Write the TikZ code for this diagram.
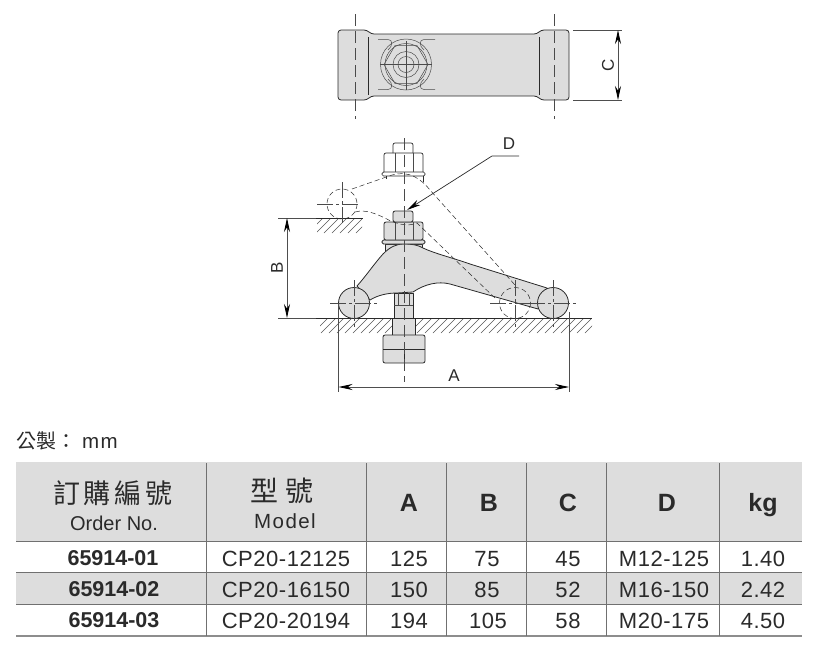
\documentclass[tikz,border=0pt]{standalone}
\usepackage{fontspec}
\setmainfont{Liberation Sans}
\newfontfamily\cjk{Noto Sans CJK TC}
\newfontfamily\tbl[LetterSpace=2.5]{Liberation Sans}
\newfontfamily\tbm[LetterSpace=7]{Liberation Sans}
\newfontfamily\tbb{Liberation Sans Bold}
\usetikzlibrary{arrows.meta}
\definecolor{partgray}{HTML}{DDDDDD}
\definecolor{ink}{HTML}{2A2A2A}
\definecolor{rule}{HTML}{707070}
\tikzset{
 part/.style={draw=ink,line width=0.8pt,fill=partgray,line join=round},
 edge/.style={draw=ink,line width=0.7pt},
 fineedge/.style={draw=ink!85!white,line width=0.5pt},
 phantomline/.style={draw=ink,line width=0.5pt,dash pattern=on 5pt off 3pt},
 center/.style={draw=ink!85!white,line width=0.55pt,dash pattern=on 16pt off 3pt on 3pt off 3pt},
 axisline/.style={draw=ink!85!white,line width=0.7pt,dash pattern=on 12pt off 5pt},
 dimline/.style={draw=rule!70!black,line width=0.8pt},
 dimarrow/.style={dimline,{Stealth[length=14pt,width=6pt,color=black]}-{Stealth[length=14pt,width=6pt,color=black]}},
 hatch/.style={draw=ink!80!white,line width=0.45pt},
 dimtext/.style={font=\fontsize{17}{17}\selectfont,text=ink,inner sep=0pt},
 cell/.style={font=\tbl\fontsize{22}{22}\selectfont,text=ink,anchor=base,inner sep=0pt},
 subcell/.style={font=\tbm\fontsize{20.5}{21}\selectfont,text=ink,anchor=base,inner sep=0pt},
 ordercell/.style={font=\fontsize{20}{20}\selectfont,text=ink,anchor=base,inner sep=0pt},
 boldcell/.style={font=\tbb\fontsize{21.5}{22}\selectfont,text=ink,anchor=base,inner sep=0pt},
 headcell/.style={font=\tbb\fontsize{25}{25}\selectfont,text=ink,anchor=base,inner sep=0pt},
 tablerule/.style={draw=rule,line width=1pt},
}
\begin{document}
\begin{tikzpicture}[x=1pt,y=-1pt]
\useasboundingbox (0,0) rectangle (817,654);
% ---------- top view
\path[part,rounded corners=3pt] (338,30) -- (367,30) -- (371,34) -- (537,34) -- (541,30) -- (569,30)
  -- (569,100) -- (541,100) -- (537,96) -- (371,96) -- (367,100) -- (338,100) -- cycle;
\draw[edge] (368,37) -- (368,95) (539,37) -- (539,95);
\draw[axisline] (355,14) -- (355,119);
\draw[axisline] (554,14) -- (554,119);
\coordinate (boltc) at (406,64.5);
\draw[fineedge] (boltc) circle (25.5) (boltc) circle (21) (boltc) circle (13) (boltc) circle (8);
\draw[fineedge] (384,64.5) -- (395,45.5) -- (417,45.5) -- (428,64.5) -- (417,83.5) -- (395,83.5) -- cycle;
\draw[fineedge] (380,64.5) -- (432,64.5) (406,41) -- (406,90);
\draw[fineedge] (378,39.5) -- (388,39.5) .. controls (393,39.5) and (393,46) .. (388,50)
            (435,39.5) -- (424,39.5) .. controls (419,39.5) and (419,46) .. (424,50)
            (378,89.5) -- (388,89.5) .. controls (393,89.5) and (393,83) .. (388,79)
            (435,89.5) -- (424,89.5) .. controls (419,89.5) and (419,83) .. (424,79);
% C dimension
\coordinate (ctop) at (618,30); \coordinate (cbot) at (618,100);
\draw[dimline] (573,30) -- (622,30) (573,100) -- (622,100);
\draw[dimarrow] (ctop) -- (cbot);
\node[dimtext,rotate=90] (labC) at (608,65) {C};
% ---------- ground hatching
\begin{scope}
\clip (320,318) rectangle (392,333) (415,318) rectangle (592,333);
\foreach \k in {0,8,...,280} \draw[hatch] (\k+313,333) -- (\k+328,318);
\end{scope}
\begin{scope}
\clip (317,218) rectangle (362,233);
\foreach \k in {0,8,...,56} \draw[hatch] (\k+308,233) -- (\k+323,218);
\end{scope}
\draw[edge] (316,318) -- (392,318) (415,318) -- (592,318);
\draw[edge] (316,218) -- (363,218);
% ---------- upper (phantom) nut
\draw[edge] (386,179) -- (386,176) (423,182) -- (423,176);
\draw[edge,rounded corners=1.5pt] (382,172) rectangle (425,176);
\draw[edge,rounded corners=2pt] (384,172) -- (384,153) -- (423,153) -- (423,172);
\draw[fineedge] (395,153) -- (395,172) (413,153) -- (413,172);
\draw[edge,rounded corners=2pt] (393,153) -- (393,143) -- (413,143) -- (413,153);
% ---------- arm
\draw[part] (385,244) rectangle (422,254);
\path[part] (357,286) .. controls (366,276) and (374,264) .. (383,254)
  .. controls (390,247) and (396,244) .. (404,244)
  .. controls (412,244) and (418,245) .. (423,248)
  .. controls (436,254) and (450,257) .. (470,264)
  -- (547,288) -- (538,309) -- (450,284)
  .. controls (438,281) and (425,284) .. (413,292)
  -- (397,293) .. controls (388,293) and (378,295) .. (370,300) -- cycle;
\draw[part] (354,303) circle (15.5);
\draw[part] (553,303) circle (15.5);
% stud and foot
\path[part] (394,293) rectangle (413,318);
\draw[fineedge] (398,293) -- (398,305) (409,293) -- (409,305) (394,305) -- (413,305);
\path[part] (392,318) rectangle (415,335);
\path[part,rounded corners=2pt] (383,363) -- (383,335) -- (425,335) -- (425,363) -- cycle;
\draw[edge] (383,349) -- (425,349) (404,349) -- (404,363);
% lower nut
\draw[part,rounded corners=1.5pt] (382,240) rectangle (425,244);
\draw[part,rounded corners=2pt] (384,240) -- (384,222) -- (423,222) -- (423,240) -- cycle;
\draw[fineedge] (395,222) -- (395,240) (413,222) -- (413,240);
\draw[part,rounded corners=2pt] (393,222) -- (393,211) -- (413,211) -- (413,222) -- cycle;
% ---------- phantom arm and circles
\draw[phantomline] (342,204) circle (15);
\draw[phantomline] (515,303) circle (15.5);
\draw[phantomline] (352,189) -- (392,175) .. controls (400,173) and (408,173) .. (415,177)
   .. controls (421,180) and (426,185) .. (430,190) -- (515,285);
\draw[phantomline] (355,212) .. controls (366,209) and (376,214) .. (385,218)
   .. controls (395,224) and (408,227) .. (417,223) -- (497,300);
% ---------- center lines
\draw[center] (317,204) -- (358,204) (342,182) -- (342,226);
\draw[center] (330,303) -- (379,303) (354,280) -- (354,330);
\draw[center] (529,303) -- (578,303) (553,280) -- (553,328);
\draw[center] (490,303) -- (540,303) (515,280) -- (515,328);
\draw[axisline] (404,138) -- (404,382);
% ---------- B dimension
\coordinate (btop) at (287,218); \coordinate (bbot) at (287,318);
\draw[dimline] (278,218) -- (316,218) (278,318) -- (316,318);
\draw[dimarrow] (btop) -- (bbot);
\node[dimtext,rotate=90] (labB) at (277,268) {B};
% ---------- A dimension
\coordinate (aleft) at (338.5,387); \coordinate (aright) at (569,387);
\draw[dimline] (338.5,305) -- (338.5,392) (569,312) -- (569,392);
\draw[dimarrow] (aleft) -- (aright);
\node[dimtext] (labA) at (454,376) {A};
% ---------- D leader
\node[dimtext] (labD) at (509,144) {D};
\coordinate (dend) at (519,156); \coordinate (dknee) at (492,156); \coordinate (dtip) at (407,210);
\draw[dimline,line width=0.7pt,draw=ink,-{Stealth[length=14pt,width=6pt,color=black]}] (dend) -- (dknee) -- (dtip);
% ---------- table
\node[anchor=base west,inner sep=0pt,text=ink] (unit) at (16,448)
  {\cjk\fontsize{20}{20}\selectfont 公製：\hspace{6pt}\tbm\fontsize{20.5}{21}\selectfont mm};
\fill[partgray] (16,462) rectangle (802,541);
\fill[partgray] (16,572) rectangle (802,604);
\foreach \yy in {541,572,604} \draw[tablerule] (16,\yy) -- (802,\yy);
\draw[tablerule,line width=1.6pt,draw=rule!80!white] (16,636) -- (802,636);
\foreach \xx in {206,366,446,526,606,719} \draw[tablerule] (\xx,463) -- (\xx,636);
\node[inner sep=0pt,text=ink,font=\cjk\fontsize{27}{27}\selectfont] (h1) at (113,493) {訂\hspace{4pt}購\hspace{4pt}編\hspace{4pt}號};
\node[ordercell] (h1b) at (114,530) {Order No.};
\node[inner sep=0pt,text=ink,font=\cjk\fontsize{28}{28}\selectfont] (h2) at (282,491) {型\hspace{7pt}號};
\node[subcell] (h2b) at (285,528) {Model};
\node[headcell] (hA) at (409,511) {A};
\node[headcell] (hB) at (489,511) {B};
\node[headcell] (hC) at (568,511) {C};
\node[headcell] (hD) at (667,511) {D};
\node[headcell] (hK) at (763,511) {kg};
\node[boldcell] (o1) at (113,565) {65914-01};
\node[boldcell] (o2) at (114,596) {65914-02};
\node[boldcell] (o3) at (114,627) {65914-03};
\node[cell] (m1) at (286,566) {CP20-12125};
\node[cell] (m2) at (286,597) {CP20-16150};
\node[cell] (m3) at (286,628) {CP20-20194};
\node[cell] (a1) at (409,566) {125};
\node[cell] (a2) at (409,597) {150};
\node[cell] (a3) at (409,628) {194};
\node[cell] (b1) at (487,566) {75};
\node[cell] (b2) at (487,597) {85};
\node[cell] (b3) at (488,628) {105};
\node[cell] (c1) at (568,566) {45};
\node[cell] (c2) at (568,597) {52};
\node[cell] (c3) at (568,628) {58};
\node[cell] (d1) at (664,566) {M12-125};
\node[cell] (d2) at (664,597) {M16-150};
\node[cell] (d3) at (664,628) {M20-175};
\node[cell] (k1) at (763,566) {1.40};
\node[cell] (k2) at (763,597) {2.42};
\node[cell] (k3) at (763,628) {4.50};
\end{tikzpicture}
\end{document}
